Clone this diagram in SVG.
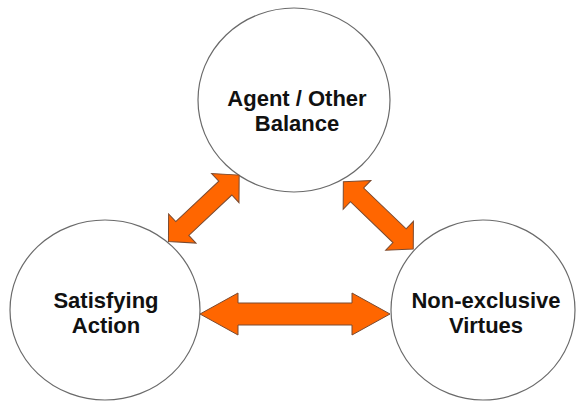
<svg xmlns="http://www.w3.org/2000/svg" width="576" height="401" viewBox="0 0 576 401">
<style>
.node ellipse{fill:#fff;stroke:#6a6a6a;stroke-width:1.2}
.node text{font-family:"Liberation Sans",Arial,sans-serif;font-weight:bold;font-size:22px;fill:#111;text-anchor:middle}
.arrow{fill:#ff6600;stroke:#7a4a30;stroke-width:1;stroke-linejoin:miter}
</style>
<defs>
<polygon id="dshort" points="-48.5,0 -29.5,-20 -29.5,-9.5 29.5,-9.5 29.5,-20 48.5,0 29.5,20 29.5,9.5 -29.5,9.5 -29.5,20"/>
</defs>
<rect width="576" height="401" fill="#fff"/>
<g id="agent-other-balance" class="node">
<ellipse cx="294" cy="100" rx="96" ry="92"/>
<text x="297" y="106">Agent / Other</text>
<text x="297" y="131">Balance</text>
</g>
<g id="satisfying-action" class="node">
<ellipse cx="105" cy="310" rx="95" ry="90"/>
<text x="106" y="308">Satisfying</text>
<text x="106" y="333">Action</text>
</g>
<g id="non-exclusive-virtues" class="node">
<ellipse cx="483" cy="310" rx="92" ry="90"/>
<text x="486" y="308">Non-exclusive</text>
<text x="486" y="333">Virtues</text>
</g>
<g id="connectors">
<use href="#dshort" class="arrow" transform="translate(203.8,208.3) rotate(-43.2)"/>
<use href="#dshort" class="arrow" transform="translate(378.3,215.3) rotate(43.9)"/>
<polygon class="arrow" transform="translate(295,314)" points="-95,0 -57,-21 -57,-11 57,-11 57,-21 95,0 57,21 57,11 -57,11 -57,21"/>
</g>
</svg>
